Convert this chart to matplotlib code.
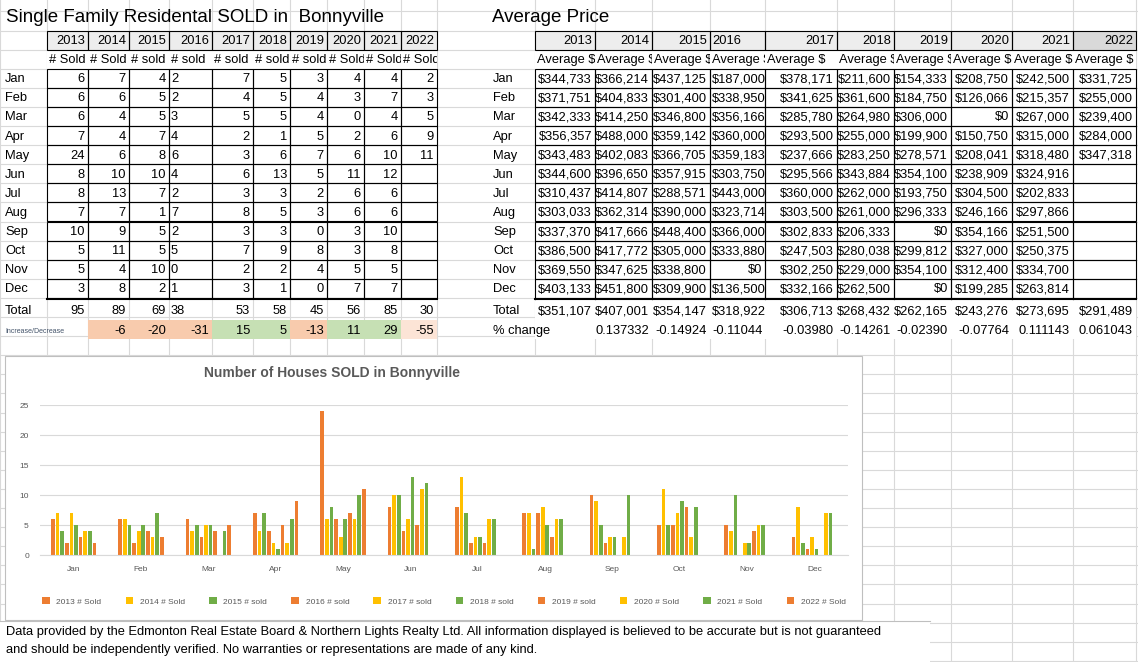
import matplotlib
matplotlib.use("Agg")
import matplotlib.pyplot as plt
import numpy as np
from matplotlib.patches import Rectangle
from matplotlib.transforms import Bbox, TransformedBbox

plt.rcParams['font.family'] = ['Liberation Sans Narrow', 'Liberation Sans', 'DejaVu Sans']

years = ['2013', '2014', '2015', '2016', '2017', '2018', '2019', '2020', '2021', '2022']
months = ['Jan', 'Feb', 'Mar', 'Apr', 'May', 'Jun', 'Jul', 'Aug', 'Sep', 'Oct', 'Nov', 'Dec']
sold_labels = ['# Sold', '# Sold', '# sold', '# sold', '# sold', '# sold', '# sold', '# Sold', '# Sold', '# Sold']

# houses sold, rows = months, cols = years (None = empty cell)
sold = [
    [6, 7, 4, 2, 7, 5, 3, 4, 4, 2],
    [6, 6, 5, 2, 4, 5, 4, 3, 7, 3],
    [6, 4, 5, 3, 5, 5, 4, 0, 4, 5],
    [7, 4, 7, 4, 2, 1, 5, 2, 6, 9],
    [24, 6, 8, 6, 3, 6, 7, 6, 10, 11],
    [8, 10, 10, 4, 6, 13, 5, 11, 12, None],
    [8, 13, 7, 2, 3, 3, 2, 6, 6, None],
    [7, 7, 1, 7, 8, 5, 3, 6, 6, None],
    [10, 9, 5, 2, 3, 3, 0, 3, 10, None],
    [5, 11, 5, 5, 7, 9, 8, 3, 8, None],
    [5, 4, 10, 0, 2, 2, 4, 5, 5, None],
    [3, 8, 2, 1, 3, 1, 0, 7, 7, None],
]
totals = [95, 89, 69, 38, 53, 58, 45, 56, 85, 30]
changes = [None, -6, -20, -31, 15, 5, -13, 11, 29, -55]

prices = [
    [344733, 366214, 437125, 187000, 378171, 211600, 154333, 208750, 242500, 331725],
    [371751, 404833, 301400, 338950, 341625, 361600, 184750, 126066, 215357, 255000],
    [342333, 414250, 346800, 356166, 285780, 264980, 306000, 0, 267000, 239400],
    [356357, 488000, 359142, 360000, 293500, 255000, 199900, 150750, 315000, 284000],
    [343483, 402083, 366705, 359183, 237666, 283250, 278571, 208041, 318480, 347318],
    [344600, 396650, 357915, 303750, 295566, 343884, 354100, 238909, 324916, None],
    [310437, 414807, 288571, 443000, 360000, 262000, 193750, 304500, 202833, None],
    [303033, 362314, 390000, 323714, 303500, 261000, 296333, 246166, 297866, None],
    [337370, 417666, 448400, 366000, 302833, 206333, 0, 354166, 251500, None],
    [386500, 417772, 305000, 333880, 247503, 280038, 299812, 327000, 250375, None],
    [369550, 347625, 338800, 0, 302250, 229000, 354100, 312400, 334700, None],
    [403133, 451800, 309900, 136500, 332166, 262500, 0, 199285, 263814, None],
]
price_totals = [351107, 407001, 354147, 318922, 306713, 268432, 262165, 243276, 273695, 291489]
pct_change = [None, '0.137332', '-0.14924', '-0.11044', '-0.03980', '-0.14261',
              '-0.02390', '-0.07764', '0.111143', '0.061043']

colors = ['#ED7D31', '#FFC000', '#70AD47'] * 3 + ['#ED7D31']

W, H = 1138, 662
fig = plt.figure(figsize=(W / 100, H / 100), dpi=100)
ax = fig.add_axes([0, 0, 1, 1])
ax.set_xlim(0, W)
ax.set_ylim(H, 0)
ax.axis('off')

FS = 9.3
CW = 6.6  # rough pixel width of one character
sx = [0, 47, 88, 129, 169, 212, 253, 290, 327, 364, 401, 437]
px = [490, 535, 595, 652, 710, 765, 837, 894, 951, 1012, 1073, 1136]
rh = 19.1
y_head = 30.5
rows_y = [y_head + i * rh for i in range(17)]

# spreadsheet gridlines
for x in sx + px[1:]:
    ax.plot([x, x], [0, H], color='#D9D9D9', lw=0.8, zorder=0)
for y in rows_y + [rows_y[0] - rh * (k + 1) for k in range(2)] + [rows_y[-1] + rh * (k + 1) for k in range(17)]:
    ax.plot([0, W], [y, y], color='#D9D9D9', lw=0.8, zorder=0)


def cell(x0, x1, y0, text, ha='right', fill=None, box=True, fs=FS, color='black'):
    if fill is not None:
        ax.add_patch(Rectangle((x0, y0), x1 - x0, rh, facecolor=fill, edgecolor='none', zorder=1))
    if box:
        ax.add_patch(Rectangle((x0, y0), x1 - x0, rh, facecolor='none', edgecolor='black', lw=0.8, zorder=3))
    if text is None:
        return
    if ha == 'auto':
        ha = 'left' if len(text) * CW > (x1 - x0) - 3 else 'right'
    tx = x0 + 2 if ha == 'left' else x1 - 3
    t = ax.text(tx, y0 + rh / 2 + 1, text, ha=ha, va='center', fontsize=fs, color=color, zorder=4)
    t.set_clip_box(TransformedBbox(Bbox([[x0, y0], [x1, y0 + rh]]), ax.transData))
    t.set_clip_on(True)


# ---- sold table
ax.text(6, 18, 'Single Family Residental SOLD in  Bonnyville', fontsize=13.5, va='center')
for j in range(10):
    cell(sx[j + 1], sx[j + 2], rows_y[0], years[j], fill='#EDEDED')
    cell(sx[j + 1], sx[j + 2], rows_y[1], sold_labels[j], ha='left', box=False, fill='white')
for i, m in enumerate(months):
    y = rows_y[2 + i]
    ax.text(5, y + rh / 2 + 1, m, va='center', fontsize=FS)
    for j in range(10):
        v = sold[i][j]
        cell(sx[j + 1], sx[j + 2], y, None if v is None else str(v),
             ha='left' if j == 3 else 'right', fill='white')
ax.plot([sx[1], sx[-1]], [rows_y[14] + 1.5, rows_y[14] + 1.5], color='black', lw=1.5, zorder=5)
ty = rows_y[14] + 3
ax.text(5, ty + rh / 2 + 1, 'Total', va='center', fontsize=FS)
for j in range(10):
    cell(sx[j + 1], sx[j + 2], ty, str(totals[j]), ha='left' if j == 3 else 'right', box=False)
iy = ty + rh
ax.text(5, iy + rh / 2 + 2, 'Increase/Decrease', va='center', fontsize=5, color='#44546A')
for j in range(1, 10):
    c = changes[j]
    fill = '#C6E0B4' if c > 0 else ('#FCE4D6' if j == 9 else '#F8CBAD')
    cell(sx[j + 1], sx[j + 2], iy, str(c), fill=fill, box=False)

# ---- price table
ax.text(492, 18, 'Average Price', fontsize=13.5, va='center')
for j in range(10):
    cell(px[j + 1], px[j + 2], rows_y[0], years[j], ha='left' if j == 3 else 'right',
         fill='#D9D9D9' if j == 9 else '#EDEDED')
    cell(px[j + 1], px[j + 2], rows_y[1], 'Average $', ha='left', box=False, fill='white')


def money(v):
    return None if v is None else '${:,}'.format(v)


for i, m in enumerate(months):
    y = rows_y[2 + i]
    ax.text(493, y + rh / 2 + 1, m, va='center', fontsize=FS)
    for j in range(10):
        cell(px[j + 1], px[j + 2], y, money(prices[i][j]), ha='auto', fill='white')
ax.plot([px[1], px[-1]], [rows_y[14] + 1.5, rows_y[14] + 1.5], color='black', lw=1.5, zorder=5)
ax.text(493, ty + rh / 2 + 1, 'Total', va='center', fontsize=FS)
ax.text(493, iy + rh / 2 + 1, '% change', va='center', fontsize=FS)
for j in range(10):
    cell(px[j + 1], px[j + 2], ty, money(price_totals[j]), ha='auto', box=False, fill='white')
    cell(px[j + 1], px[j + 2], iy, pct_change[j], ha='auto', box=False, fill='white')

# ---- chart
ax.add_patch(Rectangle((5, 356), 857, 264, facecolor='white', edgecolor='#BFBFBF', lw=0.8, zorder=6))
ax.text(332, 373, 'Number of Houses SOLD in Bonnyville', ha='center', va='center',
        fontsize=10, color='#595959', fontweight='bold', zorder=7)
cax = fig.add_axes([40 / W, 1 - 555 / H, (848 - 40) / W, (555 - 405) / H], zorder=8)
cax.patch.set_alpha(0)
xm = np.arange(12)
bw = 0.055
for j in range(10):
    vals = [np.nan if sold[i][j] is None else sold[i][j] for i in range(12)]
    cax.bar(xm + (j - 4.5) * bw * 1.25, vals, width=bw, color=colors[j], label=years[j] + ' ' + sold_labels[j])
cax.set_xlim(-0.5, 11.5)
cax.set_ylim(0, 25)
cax.set_yticks([0, 5, 10, 15, 20, 25])
cax.set_xticks(xm, months)
cax.tick_params(labelsize=6, colors='#595959', length=0, pad=8)
cax.grid(axis='y', color='#D9D9D9', lw=0.8)
cax.set_axisbelow(True)
for s in cax.spines.values():
    s.set_visible(False)
cax.spines['bottom'].set_visible(True)
cax.spines['bottom'].set_color('#D9D9D9')
cax.legend(loc='center', bbox_to_anchor=(0.5, -0.31), ncol=10, fontsize=6, frameon=False,
           handlelength=0.9, handleheight=0.9, columnspacing=2.9, labelcolor='#595959')

ax.add_patch(Rectangle((0, 622), 930, 40, facecolor='white', edgecolor='none', zorder=5))
ax.plot([0, 930], [621, 621], color='#BFBFBF', lw=0.8, zorder=6)
ax.text(6, 632, 'Data provided by the Edmonton Real Estate Board & Northern Lights Realty Ltd. '
        'All information displayed is believed to be accurate but is not guaranteed',
        va='center', fontsize=FS, zorder=7)
ax.text(6, 650, 'and should be independently verified. No warranties or representations are made of any kind.',
        va='center', fontsize=FS, zorder=7)

fig.savefig('out.png', dpi=100)
